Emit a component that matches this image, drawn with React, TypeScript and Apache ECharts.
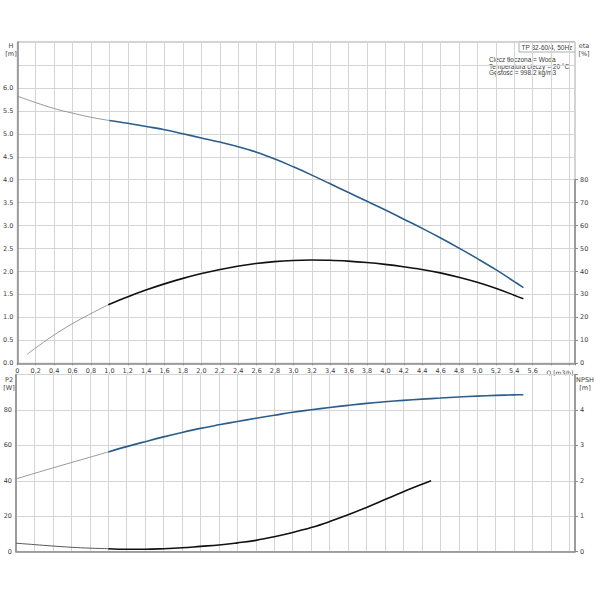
import React, { useEffect, useRef } from "react";
import * as echarts from "echarts";

// ---- data ----
const Q_LOW = [0, 0.2, 0.4, 0.6, 0.8, 1.0];
const H_LOW = [5.82, 5.68, 5.55, 5.45, 5.36, 5.29];
const Q_MAIN = [1.0, 1.2, 1.4, 1.6, 1.8, 2.0, 2.2, 2.4, 2.6, 2.8, 3.0, 3.2, 3.4, 3.6, 3.8, 4.0, 4.2, 4.4, 4.6, 4.8, 5.0, 5.2, 5.4, 5.5];
const H_MAIN = [5.29, 5.23, 5.16, 5.09, 5.0, 4.91, 4.82, 4.72, 4.6, 4.45, 4.28, 4.1, 3.91, 3.72, 3.53, 3.34, 3.14, 2.94, 2.73, 2.51, 2.28, 2.04, 1.78, 1.65];

const Q_ETA_LOW = [0.12, 0.2, 0.4, 0.6, 0.8, 1.0];
const ETA_LOW = [3.9, 6.3, 12.0, 17.0, 21.4, 25.5];
const ETA_MAIN = [25.5, 28.8, 31.8, 34.5, 36.9, 39.0, 40.8, 42.3, 43.5, 44.3, 44.8, 45.0, 44.9, 44.5, 43.9, 43.1, 42.1, 40.9, 39.4, 37.5, 35.3, 32.7, 29.7, 28.1];

const P2_LOW = [41.1, 44.2, 47.3, 50.3, 53.3, 56.3];
const P2_MAIN = [56.3, 59.3, 62.1, 64.8, 67.3, 69.6, 71.6, 73.5, 75.3, 77.0, 78.7, 80.1, 81.4, 82.6, 83.7, 84.6, 85.4, 86.1, 86.7, 87.3, 87.8, 88.2, 88.5, 88.6];

const NPSH_LOW = [0.24, 0.2, 0.16, 0.125, 0.1, 0.085];
const Q_NPSH = [1.0, 1.2, 1.4, 1.6, 1.8, 2.0, 2.2, 2.4, 2.6, 2.8, 3.0, 3.2, 3.4, 3.6, 3.8, 4.0, 4.2, 4.4, 4.5];
const NPSH_MAIN = [0.085, 0.07, 0.07, 0.085, 0.11, 0.15, 0.19, 0.25, 0.32, 0.42, 0.54, 0.68, 0.85, 1.04, 1.25, 1.47, 1.69, 1.9, 2.0];

const INFO_TITLE = "TP 32-60/4, 50Hz";
const INFO_LINES = ["Ciecz tłoczona = Woda", "Temperatura cieczy = 20 °C", "Gęstość = 998.2 kg/m3"];

const zip = (xs: number[], ys: number[]) => xs.map((x, i) => [x, ys[i]]);

const BLUE = "#2b5d8c";
const THIN = "#8c8c8c";
const TEXT = "#404040";
const GRIDC = "#d4d4d4";
const AXISC = "#8a8a8a";
const FONT = "DejaVu Sans";
const FS = 6.5;

export default function App() {
  const ref = useRef<HTMLDivElement>(null);
  useEffect(() => {
    if (!ref.current) return;
    const chart = echarts.init(ref.current, null, { renderer: "svg" });
    const gridL = 16, gridW = 559;
    const topTop = 42, topH = 321.3;
    const etaH = (topH * 80) / 140;
    const xBase = (gi: number, showLabel: boolean, hidden = false) => ({
      type: "value",
      gridIndex: gi,
      min: 0,
      max: 6.06,
      interval: 0.2,
      show: !hidden,
      axisLine: { show: true, onZero: false, lineStyle: { color: AXISC, width: 1.5 } },
      axisTick: { show: showLabel, length: 2, lineStyle: { color: AXISC } },
      splitLine: { show: !hidden, lineStyle: { color: GRIDC, width: 1 } },
      axisLabel: {
        show: showLabel,
        fontSize: FS,
        fontFamily: FONT,
        color: TEXT,
        margin: 4,
        formatter: (v: number) => {
          const r = Math.round(v * 10) / 10;
          if (r > 5.7) return "";
          if (r === 0) return "0";
          return r.toFixed(1).replace(".", ",");
        },
      },
    });
    const yBase = (gi: number, min: number, max: number, interval: number, pos: string, limit: number, fmt: (v: number) => string, split: boolean) => ({
      type: "value",
      gridIndex: gi,
      position: pos,
      min,
      max,
      interval,
      axisLine: { show: true, onZero: false, lineStyle: { color: AXISC, width: 1.5 } },
      axisTick: { show: pos === "right", length: 3, lineStyle: { color: AXISC } },
      splitLine: { show: split, lineStyle: { color: GRIDC, width: 1 } },
      axisLabel: {
        fontSize: FS,
        fontFamily: FONT,
        color: TEXT,
        margin: pos === "right" ? 5 : 4,
        formatter: (v: number) => (v > limit + 1e-6 ? "" : fmt(v)),
      },
    });
    const line = (data: number[][], xi: number, yi: number, color: string, width: number) => ({
      type: "line",
      xAxisIndex: xi,
      yAxisIndex: yi,
      data,
      smooth: 0.4,
      showSymbol: false,
      symbol: "none",
      lineStyle: { color, width },
      silent: true,
    });
    const txt = (x: number, y: number, text: string, align = "center", font = FONT, size = FS) => ({
      type: "text",
      x,
      y,
      style: { text, fontSize: size, fontFamily: font, fill: TEXT, align, verticalAlign: "middle" },
    });
    chart.setOption({
      animation: false,
      grid: [
        { left: gridL, top: topTop, width: gridW, height: topH, show: true, borderColor: "#a8a8a8", borderWidth: 1 },
        { left: gridL, top: 374.5, width: gridW, height: 177.2, show: true, borderColor: "#a8a8a8", borderWidth: 1 },
        { left: gridL, top: topTop + topH - etaH, width: gridW, height: etaH, show: false },
      ],
      xAxis: [xBase(0, true), xBase(1, false), xBase(2, false, true)],
      yAxis: [
        yBase(0, 0, 7, 0.5, "left", 6.0, (v) => v.toFixed(1), true),
        yBase(2, 0, 80, 10, "right", 80, (v) => String(Math.round(v)), false),
        yBase(1, 0, 100, 20, "left", 80, (v) => String(Math.round(v)), true),
        yBase(1, 0, 5, 1, "right", 4, (v) => String(Math.round(v)), false),
      ],
      series: [
        line(zip(Q_LOW, H_LOW), 0, 0, THIN, 0.9),
        line(zip(Q_MAIN, H_MAIN), 0, 0, BLUE, 1.6),
        line(zip(Q_ETA_LOW, ETA_LOW), 2, 1, THIN, 0.9),
        line(zip(Q_MAIN, ETA_MAIN), 2, 1, "#111", 1.6),
        line(zip(Q_LOW, P2_LOW), 1, 2, THIN, 0.9),
        line(zip(Q_MAIN, P2_MAIN), 1, 2, BLUE, 1.6),
        line(zip(Q_LOW, NPSH_LOW), 1, 3, "#444", 0.9),
        line(zip(Q_NPSH, NPSH_MAIN), 1, 3, "#111", 1.6),
      ],
      graphic: [
        txt(11, 46, "H"),
        txt(11, 54, "[m]"),
        txt(584, 46, "eta"),
        txt(584, 54, "[%]"),
        txt(9, 380, "P2"),
        txt(9, 388, "[W]"),
        txt(585, 380, "NPSH"),
        txt(585, 388, "[m]"),
        txt(560, 372, "Q [m3/h]", "center", FONT, 6),
        {
          type: "rect",
          shape: { x: 487, y: 55, width: 86, height: 22 },
          style: { fill: "#fff", stroke: "none" },
        },
        {
          type: "rect",
          shape: { x: 519, y: 42, width: 56, height: 10 },
          style: { fill: "#fff", stroke: "#999", lineWidth: 0.8 },
        },
        txt(521.5, 47.2, INFO_TITLE, "left", "Liberation Sans", 6.5),
        ...INFO_LINES.map((t, i) => txt(489, 59.3 + i * 6.7, t, "left", "Liberation Sans", 6.5)),
      ],
    });
    return () => chart.dispose();
  }, []);
  return <div ref={ref} style={{ position: "absolute", left: 0, top: 0, width: 600, height: 600, background: "#fff" }} />;
}
